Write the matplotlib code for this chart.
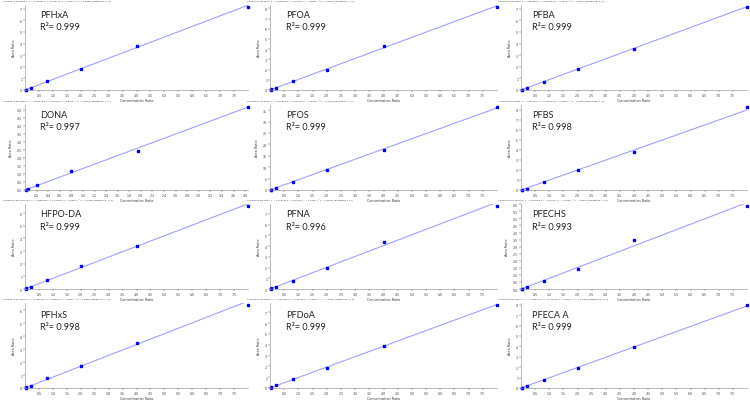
import numpy as np
import matplotlib
matplotlib.use("Agg")
import matplotlib.pyplot as plt
from matplotlib.ticker import MultipleLocator

names = ["PFHxA", "PFOA", "PFBA",
         "DONA", "PFOS", "PFBS",
         "HFPO-DA", "PFNA", "PFECHS",
         "PFHxS", "PFDoA", "PFECA A"]
r2_labels = ["0.999", "0.999", "0.999",
             "0.997", "0.999", "0.998",
             "0.999", "0.996", "0.993",
             "0.998", "0.999", "0.999"]

conc = [0.02, 0.05, 0.2, 0.8, 2.0, 4.0, 8.0]
conc_dona = [0.02, 0.05, 0.2, 0.8, 1.95, 3.85]

ratio_pfhxa = [0.02, 0.04, 0.17, 0.74, 1.83, 3.77, 7.17]
ratio_pfoa = [0.02, 0.05, 0.20, 0.87, 1.97, 4.26, 8.16]
ratio_pfba = [0.02, 0.04, 0.17, 0.71, 1.83, 3.57, 7.17]
ratio_dona = [0.02, 0.06, 0.31, 1.18, 2.45, 5.20]
ratio_pfos = [0.08, 0.2, 1.0, 3.6, 8.9, 17.4, 36.5]
ratio_pfbs = [0.02, 0.04, 0.13, 0.77, 1.97, 3.77, 8.33]
ratio_hfpo = [0.02, 0.04, 0.16, 0.68, 1.79, 3.42, 6.60]
ratio_pfna = [0.02, 0.05, 0.21, 0.76, 2.00, 4.42, 7.76]
ratio_pfechs = [0.01, 0.03, 0.14, 0.55, 1.40, 3.45, 5.90]
ratio_pfhxs = [0.02, 0.04, 0.15, 0.80, 1.72, 3.49, 6.44]
ratio_pfdoa = [0.02, 0.05, 0.24, 0.82, 1.85, 3.88, 7.70]
ratio_pfeca = [0.02, 0.04, 0.19, 0.78, 1.90, 3.90, 8.00]

all_ratios = [ratio_pfhxa, ratio_pfoa, ratio_pfba,
              ratio_dona, ratio_pfos, ratio_pfbs,
              ratio_hfpo, ratio_pfna, ratio_pfechs,
              ratio_pfhxs, ratio_pfdoa, ratio_pfeca]
y_steps = [1, 1, 1, 0.5, 5, 1, 1, 1, 0.5, 1, 1, 1]

W, H = 750, 402
fig = plt.figure(figsize=(7.5, 4.02), dpi=100, facecolor="white")

bottoms = [91, 191, 290, 389]
lefts = [25, 270, 521]
rights = [248, 497, 747]
big_x = [40, 286, 532]

for i, name in enumerate(names):
    row, col = divmod(i, 3)
    x = np.array(conc_dona if name == "DONA" else conc)
    y = np.array(all_ratios[i])
    b = bottoms[row]
    t = b - 85
    ax = fig.add_axes([lefts[col] / W, 1 - b / H,
                       (rights[col] - lefts[col]) / W, (b - t) / H])
    # weighted (1/x) linear fit
    slope, icept = np.polyfit(x, y, 1, w=1 / np.sqrt(x))
    xx = np.array([0, x.max()])
    ax.plot(xx, slope * xx + icept, color="#a0a0ff", lw=0.8)
    ax.plot(x, y, "s", color="#0000ff", ms=1.8, clip_on=False)
    ax.set_xlim(0, x.max())
    ax.set_ylim(0, y.max() * 1.02)
    ax.xaxis.set_major_locator(MultipleLocator(0.2 if name == "DONA" else 0.5))
    ax.yaxis.set_major_locator(MultipleLocator(y_steps[i]))
    ax.tick_params(labelsize=2.3, length=1.2, width=0.3, pad=0.8, colors="#444444")
    for s in ["top", "right"]:
        ax.spines[s].set_visible(False)
    for s in ["left", "bottom"]:
        ax.spines[s].set_linewidth(0.4)
        ax.spines[s].set_color("#888888")
    xt = ax.get_xticks()
    ax.set_xticks(xt[(xt > 0) & (xt < x.max())])
    ax.set_xlabel("Concentration Ratio", fontsize=2.4, labelpad=0.6, color="#333333")
    ax.set_ylabel("Area Ratio", fontsize=2.4, labelpad=3, color="#333333")
    ax.set_title("Calibration for %s: y = %.6f x + %.6f (r = 0.9996, r^2 = 0.%s) (weighting: 1 / x)"
                 % (name, slope, icept, r2_labels[i][2:] + "2"),
                 fontsize=1.65, loc="left", pad=2.2, color="#333333", x=-0.1)
    fig.text(big_x[col] / W, 1 - (row * 100 + 15) / H, name,
             fontsize=6.6, family="Lato", va="center", color="#222222")
    fig.text(big_x[col] / W, 1 - (row * 100 + 28) / H, "R²= " + r2_labels[i],
             fontsize=6.6, family="Lato", va="center", color="#222222")

fig.savefig("out.png", dpi=100)
